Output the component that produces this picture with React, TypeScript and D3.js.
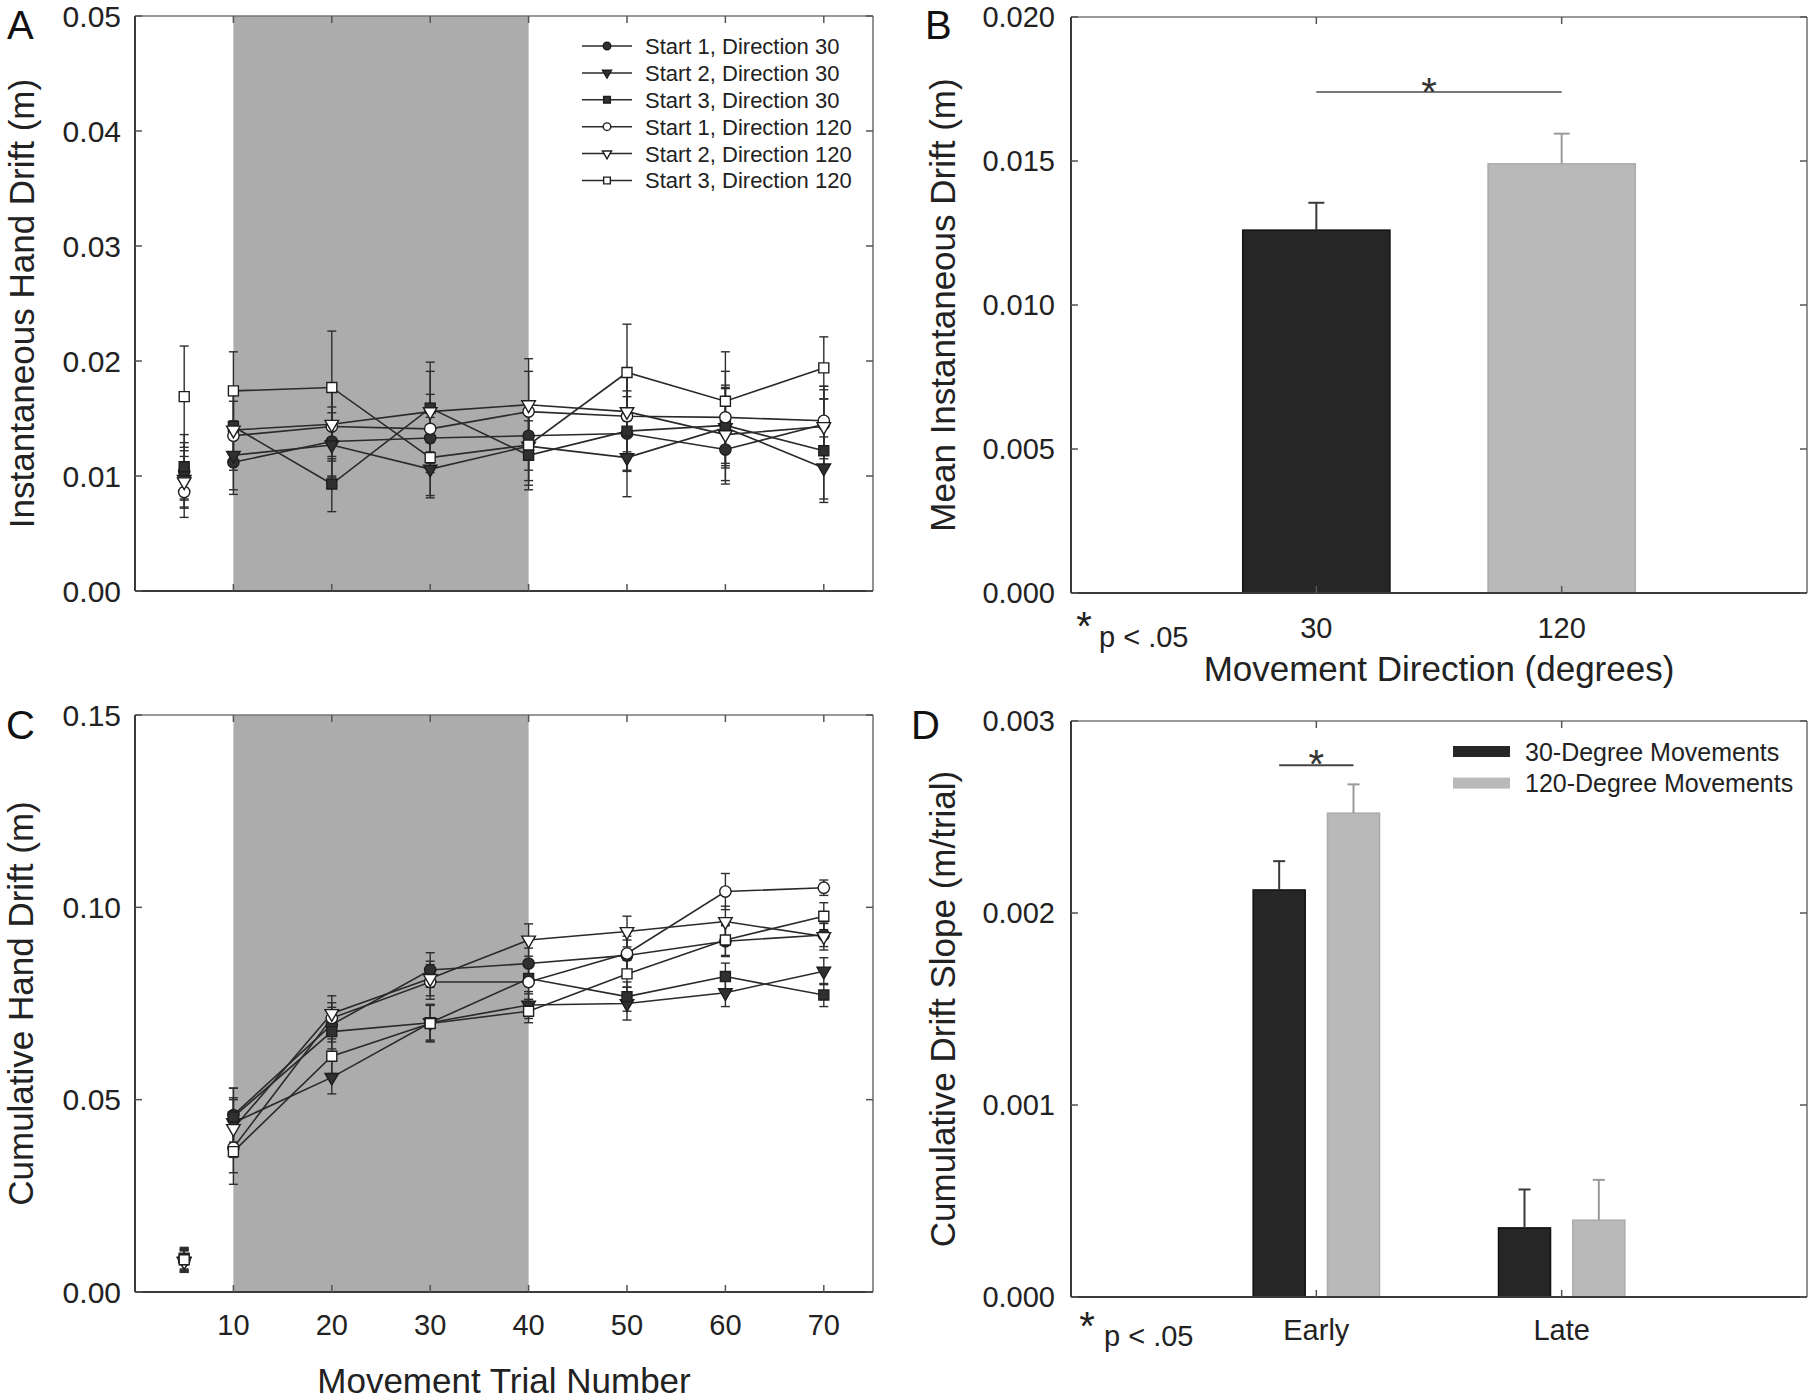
import React from "react";
import * as d3 from "d3";

const W = 1814;
const H = 1400;
const FONT = "'Liberation Sans', Arial, Helvetica, sans-serif";

// ---------- shared categories ----------
const trials = [10, 20, 30, 40, 50, 60, 70];
const preTrial = 5;
const trialTicks = [10, 20, 30, 40, 50, 60, 70];
const shadeFrom = 10;
const shadeTo = 40;
const seriesLabels = [
  "Start 1, Direction 30",
  "Start 2, Direction 30",
  "Start 3, Direction 30",
  "Start 1, Direction 120",
  "Start 2, Direction 120",
  "Start 3, Direction 120",
];
const seriesShapes = ["circle", "triangle", "square", "circle", "triangle", "square"];
const seriesFilled = [true, true, true, false, false, false];

// ---------- Panel A: instantaneous hand drift ----------
const instTicks = [0, 0.01, 0.02, 0.03, 0.04, 0.05];
const instPre = [0.0104, 0.0097, 0.0108, 0.0086, 0.0095, 0.0169];
const instPreErr = [0.0025, 0.0025, 0.0028, 0.0022, 0.0022, 0.0044];
const instS1D30 = [0.0112, 0.013, 0.0133, 0.0135, 0.0137, 0.0123, 0.0145];
const instS2D30 = [0.0118, 0.0127, 0.0106, 0.0126, 0.0116, 0.0142, 0.0107];
const instS3D30 = [0.0143, 0.0093, 0.0159, 0.0118, 0.0139, 0.0144, 0.0122];
const instS1D120 = [0.0135, 0.0143, 0.0141, 0.0156, 0.0152, 0.0151, 0.0148];
const instS2D120 = [0.014, 0.0145, 0.0156, 0.0162, 0.0156, 0.0136, 0.0143];
const instS3D120 = [0.0174, 0.0177, 0.0116, 0.0127, 0.019, 0.0165, 0.0194];
const instErrS1D30 = [0.0028, 0.003, 0.003, 0.003, 0.0032, 0.003, 0.003];
const instErrS2D30 = [0.003, 0.0028, 0.0023, 0.003, 0.0034, 0.0035, 0.0027];
const instErrS3D30 = [0.003, 0.0024, 0.004, 0.003, 0.0035, 0.0035, 0.0045];
const instErrS1D120 = [0.003, 0.003, 0.003, 0.0035, 0.0035, 0.004, 0.003];
const instErrS2D120 = [0.003, 0.003, 0.0035, 0.004, 0.0035, 0.004, 0.0035];
const instErrS3D120 = [0.0034, 0.0049, 0.0035, 0.0035, 0.0042, 0.0043, 0.0027];

// ---------- Panel C: cumulative hand drift ----------
const cumTicks = [0, 0.05, 0.1, 0.15];
const cumPre = [0.0085, 0.008, 0.0088, 0.0082, 0.0079, 0.0084];
const cumPreErr = [0.0028, 0.0028, 0.0028, 0.0028, 0.0028, 0.0028];
const cumS1D30 = [0.046, 0.0695, 0.0837, 0.0854, 0.0875, 0.0912, 0.0928];
const cumS2D30 = [0.044, 0.0558, 0.07, 0.0746, 0.075, 0.0778, 0.0834];
const cumS3D30 = [0.0455, 0.0677, 0.07, 0.0815, 0.0768, 0.082, 0.0772];
const cumS1D120 = [0.0375, 0.0712, 0.0806, 0.0806, 0.088, 0.1041, 0.1051];
const cumS2D120 = [0.0425, 0.0724, 0.0815, 0.0915, 0.0937, 0.0963, 0.0924];
const cumS3D120 = [0.0365, 0.0613, 0.0698, 0.073, 0.0827, 0.0915, 0.0977];
const cumErrS1D30 = [0.007, 0.0045, 0.0045, 0.004, 0.004, 0.004, 0.003];
const cumErrS2D30 = [0.0065, 0.0043, 0.0045, 0.0035, 0.0043, 0.0036, 0.0035];
const cumErrS3D30 = [0.0075, 0.0045, 0.0048, 0.004, 0.0038, 0.0035, 0.003];
const cumErrS1D120 = [0.0065, 0.004, 0.0045, 0.0045, 0.0045, 0.0047, 0.002];
const cumErrS2D120 = [0.0075, 0.0046, 0.0045, 0.0042, 0.004, 0.004, 0.0035];
const cumErrS3D120 = [0.0085, 0.0045, 0.0048, 0.003, 0.0035, 0.004, 0.0035];

// ---------- Panel B: mean instantaneous drift ----------
const directions = ["30", "120"];
const meanDrift = [0.0126, 0.0149];
const meanDriftErr = [0.00095, 0.00105];
const meanTicks = [0, 0.005, 0.01, 0.015, 0.02];
const meanSigLevel = 0.0174;

// ---------- Panel D: cumulative drift slope ----------
const phases = ["Early", "Late"];
const slope30 = [0.00212, 0.00036];
const slope120 = [0.00252, 0.0004];
const slope30Err = [0.00015, 0.0002];
const slope120Err = [0.00015, 0.00021];
const slopeTicks = [0, 0.001, 0.002, 0.003];
const slopeSigLevel = 0.00277;
const slopeLegend = ["30-Degree Movements", "120-Degree Movements"];

// ---------- layout ----------
const boxA = { left: 135, right: 873, top: 16, bottom: 591 };
const boxC = { left: 135, right: 873, top: 715, bottom: 1292 };
const boxB = { left: 1071, right: 1807, top: 17, bottom: 593 };
const boxD = { left: 1071, right: 1807, top: 721, bottom: 1297 };

const DARK = "#262626";
const LIGHT = "#b9b9b9";
const SHADE = "#acacac";

function markerPath(shape: string, size: number) {
  const type =
    shape === "circle" ? d3.symbolCircle : shape === "square" ? d3.symbolSquare : d3.symbolTriangle;
  return d3.symbol().type(type).size(size)() as string;
}

function Marker({ shape, filled, cx, cy, scale = 1 }: any) {
  const size = shape === "circle" ? 100 * scale : shape === "square" ? 100 * scale : 80 * scale;
  const rot = shape === "triangle" ? " rotate(180)" : "";
  return (
    <path
      d={markerPath(shape, size)}
      transform={`translate(${cx},${cy})${rot}`}
      fill={filled ? "#303030" : "#ffffff"}
      stroke="#1e1e1e"
      strokeWidth={1.4}
    />
  );
}

function Frame({ box, xTicks, yTicks }: any) {
  const t = 7;
  return (
    <g>
      <line x1={box.left} x2={box.right} y1={box.top} y2={box.top} stroke="#777" strokeWidth={1.6} />
      <line x1={box.right} x2={box.right} y1={box.top} y2={box.bottom} stroke="#777" strokeWidth={1.6} />
      <line x1={box.left} x2={box.left} y1={box.top} y2={box.bottom} stroke="#3a3a3a" strokeWidth={2} />
      <line x1={box.left} x2={box.right} y1={box.bottom} y2={box.bottom} stroke="#3a3a3a" strokeWidth={2} />
      {xTicks.map((px: number, i: number) => (
        <g key={"xt" + i} stroke="#555" strokeWidth={1.5}>
          <line x1={px} x2={px} y1={box.bottom} y2={box.bottom - t} />
          <line x1={px} x2={px} y1={box.top} y2={box.top + t} />
        </g>
      ))}
      {yTicks.map((py: number, i: number) => (
        <g key={"yt" + i} stroke="#555" strokeWidth={1.5}>
          <line x1={box.left} x2={box.left + t} y1={py} y2={py} />
          <line x1={box.right} x2={box.right - t} y1={py} y2={py} />
        </g>
      ))}
    </g>
  );
}

function YTickLabels({ box, y, ticks, fmt, size, gap }: any) {
  return (
    <g fontFamily={FONT} fontSize={size} fill="#222" textAnchor="end">
      {ticks.map((v: number, i: number) => (
        <text key={i} x={box.left - gap} y={y(v)} dy="0.36em">
          {fmt(v)}
        </text>
      ))}
    </g>
  );
}

function LinePanel({ box, yMax, yTicks, fmt, pre, preErr, means, errs, showX }: any) {
  const x = d3.scaleLinear().domain([0, 75]).range([box.left, box.right]);
  const y = d3.scaleLinear().domain([0, yMax]).range([box.bottom, box.top]);
  const line = d3
    .line<number>()
    .x((_, i) => x(trials[i]))
    .y((d) => y(d));
  const cap = 4.5;
  const errBar = (cx: number, v: number, e: number, key: string) => (
    <g key={key} stroke="#2e2e2e" strokeWidth={1.4}>
      <line x1={cx} x2={cx} y1={y(v - e)} y2={y(v + e)} />
      <line x1={cx - cap} x2={cx + cap} y1={y(v + e)} y2={y(v + e)} />
      <line x1={cx - cap} x2={cx + cap} y1={y(v - e)} y2={y(v - e)} />
    </g>
  );
  return (
    <g>
      <rect
        x={x(shadeFrom)}
        y={box.top}
        width={x(shadeTo) - x(shadeFrom)}
        height={box.bottom - box.top}
        fill={SHADE}
      />
      <Frame box={box} xTicks={trialTicks.map((t) => x(t))} yTicks={yTicks.map((t: number) => y(t))} />
      <YTickLabels box={box} y={y} ticks={yTicks} fmt={fmt} size={30} gap={14} />
      {means.map((s: number[], si: number) => (
        <g key={"err" + si}>
          {s.map((v, i) => errBar(x(trials[i]), v, errs[si][i], "e" + si + "-" + i))}
          {errBar(x(preTrial), pre[si], preErr[si], "p" + si)}
        </g>
      ))}
      {means.map((s: number[], si: number) => (
        <path key={"ln" + si} d={line(s) as string} fill="none" stroke="#2a2a2a" strokeWidth={1.6} />
      ))}
      {means.map((s: number[], si: number) => (
        <g key={"mk" + si}>
          {s.map((v, i) => (
            <Marker key={i} shape={seriesShapes[si]} filled={seriesFilled[si]} cx={x(trials[i])} cy={y(v)} />
          ))}
          <Marker shape={seriesShapes[si]} filled={seriesFilled[si]} cx={x(preTrial)} cy={y(pre[si])} />
        </g>
      ))}
      {showX && (
        <g fontFamily={FONT} fontSize={29} fill="#222" textAnchor="middle">
          {trialTicks.map((t) => (
            <text key={t} x={x(t)} y={1335}>
              {t}
            </text>
          ))}
        </g>
      )}
    </g>
  );
}

function LegendA() {
  const x0 = 582;
  const x1 = 632;
  const y0 = 46;
  const dy = 26.9;
  return (
    <g>
      {seriesLabels.map((lab, i) => (
        <g key={i}>
          <line x1={x0} x2={x1} y1={y0 + i * dy} y2={y0 + i * dy} stroke="#2a2a2a" strokeWidth={1.5} />
          <Marker shape={seriesShapes[i]} filled={seriesFilled[i]} cx={(x0 + x1) / 2} cy={y0 + i * dy} scale={0.45} />
          <text x={645} y={y0 + i * dy} dy="0.36em" fontFamily={FONT} fontSize={22} fill="#222">
            {lab}
          </text>
        </g>
      ))}
    </g>
  );
}

function BarPanelB() {
  const box = boxB;
  const x = d3.scalePoint<string>().domain(directions).range([box.left, box.right]).padding(1);
  const y = d3.scaleLinear().domain([0, 0.02]).range([box.bottom, box.top]);
  const bw = x.step() * 0.6;
  const colors = [DARK, LIGHT];
  const errColors = ["#3a3a3a", "#9a9a9a"];
  return (
    <g>
      {directions.map((d, i) => {
        const cx = x(d) as number;
        return (
          <g key={d}>
            <rect x={cx - bw / 2} y={y(meanDrift[i])} width={bw} height={y(0) - y(meanDrift[i])} fill={colors[i]} stroke={i === 0 ? "#111" : "#aaa"} strokeWidth={1.5} />
            <line x1={cx} x2={cx} y1={y(meanDrift[i])} y2={y(meanDrift[i] + meanDriftErr[i])} stroke={errColors[i]} strokeWidth={2} />
            <line x1={cx - 8} x2={cx + 8} y1={y(meanDrift[i] + meanDriftErr[i])} y2={y(meanDrift[i] + meanDriftErr[i])} stroke={errColors[i]} strokeWidth={2} />
          </g>
        );
      })}
      <Frame box={box} xTicks={directions.map((d) => x(d) as number)} yTicks={meanTicks.map((t) => y(t))} />
      <YTickLabels box={box} y={y} ticks={meanTicks} fmt={d3.format(".3f")} size={29} gap={16} />
      <line x1={x("30") as number} x2={x("120") as number} y1={y(meanSigLevel)} y2={y(meanSigLevel)} stroke="#777" strokeWidth={2} />
      <text x={1429} y={y(meanSigLevel) + 14} textAnchor="middle" fontFamily={FONT} fontSize={40} fill="#333">*</text>
      <g fontFamily={FONT} fontSize={29} fill="#222" textAnchor="middle">
        {directions.map((d) => (
          <text key={d} x={x(d) as number} y={638}>{d}</text>
        ))}
      </g>
      <text x={(box.left + box.right) / 2} y={681} textAnchor="middle" fontFamily={FONT} fontSize={35} fill="#222">
        Movement Direction (degrees)
      </text>
      <text x={1084} y={640} textAnchor="middle" fontFamily={FONT} fontSize={40} fill="#222">*</text>
      <text x={1099} y={647} fontFamily={FONT} fontSize={29} fill="#222">p &lt; .05</text>
    </g>
  );
}

function BarPanelD() {
  const box = boxD;
  const x = d3.scalePoint<string>().domain(phases).range([box.left, box.right]).padding(1);
  const groupW = x.step() * 0.515;
  const inner = d3.scaleBand<string>().domain(directions).range([-groupW / 2, groupW / 2]).paddingInner(0.3);
  const y = d3.scaleLinear().domain([0, 0.003]).range([box.bottom, box.top]);
  const vals = [slope30, slope120];
  const errs = [slope30Err, slope120Err];
  const colors = [DARK, LIGHT];
  const errColors = ["#3a3a3a", "#9a9a9a"];
  return (
    <g>
      {phases.map((p, pi) =>
        directions.map((d, di) => {
          const bx = (x(p) as number) + (inner(d) as number);
          const v = vals[di][pi];
          const e = errs[di][pi];
          const cx = bx + inner.bandwidth() / 2;
          return (
            <g key={p + d}>
              <rect x={bx} y={y(v)} width={inner.bandwidth()} height={y(0) - y(v)} fill={colors[di]} stroke={di === 0 ? "#111" : "#aaa"} strokeWidth={1.5} />
              <line x1={cx} x2={cx} y1={y(v)} y2={y(v + e)} stroke={errColors[di]} strokeWidth={2} />
              <line x1={cx - 6} x2={cx + 6} y1={y(v + e)} y2={y(v + e)} stroke={errColors[di]} strokeWidth={2} />
            </g>
          );
        })
      )}
      <Frame box={box} xTicks={phases.map((p) => x(p) as number)} yTicks={slopeTicks.map((t) => y(t))} />
      <YTickLabels box={box} y={y} ticks={slopeTicks} fmt={d3.format(".3f")} size={29} gap={16} />
      <line
        x1={(x("Early") as number) + (inner("30") as number) + inner.bandwidth() / 2}
        x2={(x("Early") as number) + (inner("120") as number) + inner.bandwidth() / 2}
        y1={y(slopeSigLevel)}
        y2={y(slopeSigLevel)}
        stroke="#444"
        strokeWidth={2}
      />
      <text x={x("Early") as number} y={y(slopeSigLevel) + 13} textAnchor="middle" fontFamily={FONT} fontSize={40} fill="#333">*</text>
      <g fontFamily={FONT} fontSize={29} fill="#222" textAnchor="middle">
        {phases.map((p) => (
          <text key={p} x={x(p) as number} y={1340}>{p}</text>
        ))}
      </g>
      <text x={1087} y={1340} textAnchor="middle" fontFamily={FONT} fontSize={40} fill="#222">*</text>
      <text x={1104} y={1346} fontFamily={FONT} fontSize={29} fill="#222">p &lt; .05</text>
      {slopeLegend.map((lab, i) => (
        <g key={lab}>
          <rect x={1453} y={746 + i * 31.6} width={57} height={11} fill={colors[i]} />
          <text x={1525} y={751.5 + i * 31.6} dy="0.36em" fontFamily={FONT} fontSize={25} fill="#222">{lab}</text>
        </g>
      ))}
    </g>
  );
}

function YTitle({ x, y, text }: any) {
  return (
    <text transform={`translate(${x},${y}) rotate(-90)`} textAnchor="middle" fontFamily={FONT} fontSize={35} fill="#222">
      {text}
    </text>
  );
}

export default function App() {
  const instMeans = [instS1D30, instS2D30, instS3D30, instS1D120, instS2D120, instS3D120];
  const instErrs = [instErrS1D30, instErrS2D30, instErrS3D30, instErrS1D120, instErrS2D120, instErrS3D120];
  const cumMeans = [cumS1D30, cumS2D30, cumS3D30, cumS1D120, cumS2D120, cumS3D120];
  const cumErrs = [cumErrS1D30, cumErrS2D30, cumErrS3D30, cumErrS1D120, cumErrS2D120, cumErrS3D120];
  return (
    <div style={{ position: "absolute", left: 0, top: 0 }}>
      <svg width={W} height={H} viewBox={`0 0 ${W} ${H}`} style={{ display: "block", background: "#fff" }}>
        <rect x={0} y={0} width={W} height={H} fill="#fff" />
        <LinePanel box={boxA} yMax={0.05} yTicks={instTicks} fmt={d3.format(".2f")} pre={instPre} preErr={instPreErr} means={instMeans} errs={instErrs} showX={false} />
        <LegendA />
        <LinePanel box={boxC} yMax={0.15} yTicks={cumTicks} fmt={d3.format(".2f")} pre={cumPre} preErr={cumPreErr} means={cumMeans} errs={cumErrs} showX={true} />
        <text x={(boxC.left + boxC.right) / 2} y={1393} textAnchor="middle" fontFamily={FONT} fontSize={35} fill="#222">
          Movement Trial Number
        </text>
        <BarPanelB />
        <BarPanelD />
        <YTitle x={34} y={(boxA.top + boxA.bottom) / 2} text="Instantaneous Hand Drift (m)" />
        <YTitle x={33} y={(boxC.top + boxC.bottom) / 2} text="Cumulative Hand Drift (m)" />
        <YTitle x={955} y={(boxB.top + boxB.bottom) / 2} text="Mean Instantaneous Drift (m)" />
        <YTitle x={955} y={(boxD.top + boxD.bottom) / 2} text="Cumulative Drift Slope (m/trial)" />
        <g fontFamily={FONT} fontSize={40} fill="#111">
          <text x={7} y={39}>A</text>
          <text x={925} y={39}>B</text>
          <text x={6} y={739}>C</text>
          <text x={911} y={739}>D</text>
        </g>
      </svg>
    </div>
  );
}
